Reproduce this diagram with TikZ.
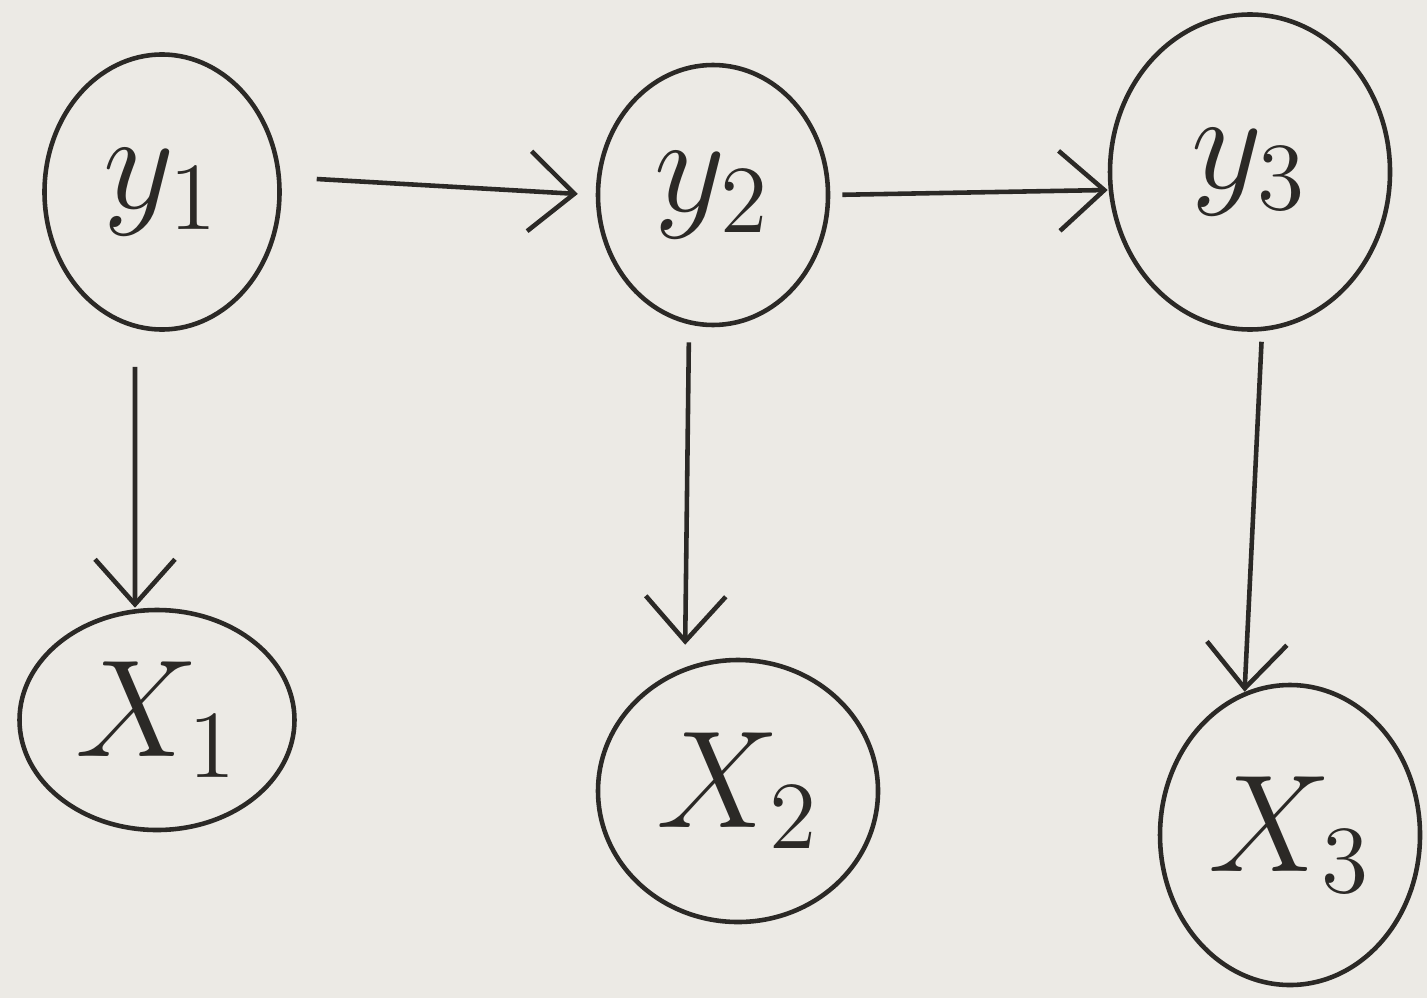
\documentclass[tikz,border=0pt]{standalone}
\usepackage{amsmath}
\usepackage{graphicx}
\usepackage{tikz}
\usetikzlibrary{arrows.meta,shapes.geometric}

\definecolor{paper}{HTML}{ECEAE5}
\definecolor{ink}{HTML}{2B2926}
\newcommand{\lbl}[1]{\scalebox{1.9}{$#1$}}

\begin{document}
\begin{tikzpicture}[
  font=\huge, >={Straight Barb[length=4.5mm,width=8mm]},
  v/.style={ellipse, draw=ink, line width=1.3pt, inner sep=0pt, text=ink},
  a/.style={->, line width=1.3pt, draw=ink},
]
% paper
\fill[paper] (0,0) rectangle (14.27,9.98);
% hidden states
\node[v, minimum width=23.5mm, minimum height=27.5mm] (y1) at (1.62,8.06) {\lbl{y_1}};
\node[v, minimum width=23mm, minimum height=26mm]   (y2) at (7.13,8.03) {\lbl{y_2}};
\node[v, minimum width=28mm, minimum height=31.5mm] (y3) at (12.50,8.26) {\lbl{y_3}};
% observations
\node[v, minimum width=27.5mm, minimum height=22mm] (X1) at (1.57,2.78) {\lbl{X_1}};
\node[v, minimum width=28mm, minimum height=26.2mm] (X2) at (7.38,2.07) {\lbl{X_2}};
\node[v, minimum width=26mm, minimum height=30mm]   (X3) at (12.90,1.63) {\lbl{X_3}};
\draw[a, shorten <=3.5mm, shorten >=1.8mm] ([yshift=1.5mm]y1.east) -- (y2.west);
\draw[a, shorten <=1.2mm] (y2.east) -- ([yshift=-1.8mm]y3.west);
\draw[a, shorten <=3.5mm] ([xshift=-2.7mm]y1.south) -- ([xshift=-2.2mm]X1.north);
\draw[a, shorten <=1.5mm, shorten >=1.3mm] ([xshift=-2.4mm]y2.south) -- ([xshift=-5.3mm]X2.north);
\draw[a, shorten <=1mm, shorten >=-0.9mm] ([xshift=1.2mm]y3.south) -- ([xshift=-4.5mm]X3.north);
\end{tikzpicture}
\end{document}
